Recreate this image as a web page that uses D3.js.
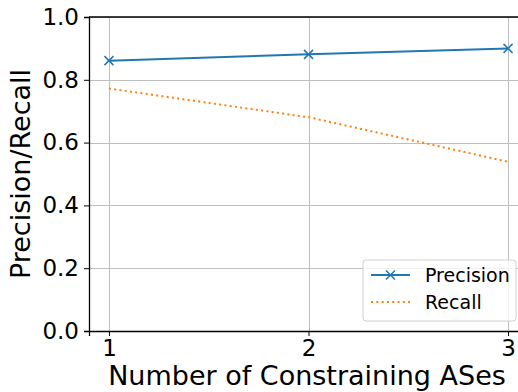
<!DOCTYPE html>
<html>
<head>
<meta charset="utf-8">
<script src="https://cdn.jsdelivr.net/npm/d3@7"></script>
<style>
  body { margin: 0; background: #fff; }
  text { font-family: "DejaVu Sans", sans-serif; fill: #000; }
</style>
</head>
<body>
<div id="chart"></div>
<script>
// data
const constraining = [1, 2, 3];
const precision = [0.861, 0.881, 0.900];
const recall = [0.772, 0.681, 0.539];
const yTicks = [0, 0.2, 0.4, 0.6, 0.8, 1.0];

function createChart() {
    const width = 518, height = 392;
    const margin = {left: 89, top: 17};
    const plotW = 439, plotH = 314;   // right edge runs past the window

    const svg = d3.select("#chart")
        .append("svg")
        .attr("width", width)
        .attr("height", height);

    const x = d3.scaleLinear()
        .domain([0.9, 3.1])
        .range([margin.left, margin.left + plotW]);

    const y = d3.scaleLinear()
        .domain([0, 1])
        .range([margin.top + plotH, margin.top]);

    // grid
    const grid = svg.append("g").attr("stroke", "#b0b0b0").attr("stroke-width", 1).attr("opacity", 0.8);
    grid.selectAll(".gx")
        .data(constraining)
        .enter().append("line")
        .attr("x1", d => Math.round(x(d)) + 0.5)
        .attr("x2", d => Math.round(x(d)) + 0.5)
        .attr("y1", y(0))
        .attr("y2", y(1));
    grid.selectAll(".gy")
        .data(yTicks)
        .enter().append("line")
        .attr("x1", x(0.9))
        .attr("x2", x(3.1))
        .attr("y1", d => Math.round(y(d)) + 0.5)
        .attr("y2", d => Math.round(y(d)) + 0.5);

    // axes
    const xAxis = svg.append("g")
        .attr("transform", `translate(0,${y(0)})`)
        .call(d3.axisBottom(x).tickValues(constraining).tickFormat(d3.format("d")).tickSizeOuter(0).tickSize(5).tickPadding(4));
    const yAxis = svg.append("g")
        .attr("transform", `translate(${x(0.9)},0)`)
        .call(d3.axisLeft(y).tickValues(yTicks).tickFormat(d3.format(".1f")).tickSizeOuter(0).tickSize(5).tickPadding(5));

    [xAxis, yAxis].forEach(g => {
        g.selectAll("text").attr("font-size", 23).attr("font-family", "DejaVu Sans").attr("fill", "#000");
        g.selectAll("line").attr("stroke", "#000").attr("stroke-width", 1);
        g.select(".domain").attr("stroke", "#000").attr("stroke-width", 1.3);
    });

    // top spine
    svg.append("line")
        .attr("x1", x(0.9)).attr("x2", x(3.1))
        .attr("y1", y(1)).attr("y2", y(1))
        .attr("stroke", "#000").attr("stroke-width", 1.3);

    // series
    const line = d3.line()
        .x((d, i) => x(constraining[i]))
        .y(d => y(d));

    svg.append("path")
        .datum(recall)
        .attr("fill", "none")
        .attr("stroke", "#ff7f0e")
        .attr("stroke-width", 2)
        .attr("stroke-dasharray", "2,3.3")
        .attr("d", line);

    svg.append("path")
        .datum(precision)
        .attr("fill", "none")
        .attr("stroke", "#1f77b4")
        .attr("stroke-width", 2)
        .attr("d", line);

    const xMark = (cx, cy, s) => `M${cx - s},${cy - s}L${cx + s},${cy + s}M${cx - s},${cy + s}L${cx + s},${cy - s}`;

    svg.selectAll(".mark")
        .data(precision)
        .enter().append("path")
        .attr("d", (d, i) => xMark(x(constraining[i]), y(d), 4.5))
        .attr("stroke", "#1f77b4")
        .attr("stroke-width", 1.5);

    // axis labels
    svg.append("text")
        .attr("x", 307)
        .attr("y", 385)
        .attr("text-anchor", "middle")
        .attr("font-size", 27)
        .text("Number of Constraining ASes");

    svg.append("text")
        .attr("transform", `translate(30,${y(0.5)}) rotate(-90)`)
        .attr("text-anchor", "middle")
        .attr("font-size", 27)
        .text("Precision/Recall");

    // legend
    const lg = svg.append("g").attr("transform", "translate(363,260)");
    lg.append("rect")
        .attr("width", 153).attr("height", 61)
        .attr("rx", 3)
        .attr("fill", "#fff").attr("fill-opacity", 0.8)
        .attr("stroke", "#d0d0d0");
    lg.append("line")
        .attr("x1", 8).attr("x2", 47).attr("y1", 15).attr("y2", 15)
        .attr("stroke", "#1f77b4").attr("stroke-width", 2);
    lg.append("path")
        .attr("d", xMark(27.5, 15, 4.5))
        .attr("stroke", "#1f77b4").attr("stroke-width", 1.5);
    lg.append("line")
        .attr("x1", 8).attr("x2", 47).attr("y1", 42).attr("y2", 42)
        .attr("stroke", "#ff7f0e").attr("stroke-width", 2)
        .attr("stroke-dasharray", "2,3.3");
    lg.append("text").attr("x", 62).attr("y", 22).attr("font-size", 19).text("Precision");
    lg.append("text").attr("x", 62).attr("y", 49).attr("font-size", 19).text("Recall");
}

createChart();
</script>
</body>
</html>
